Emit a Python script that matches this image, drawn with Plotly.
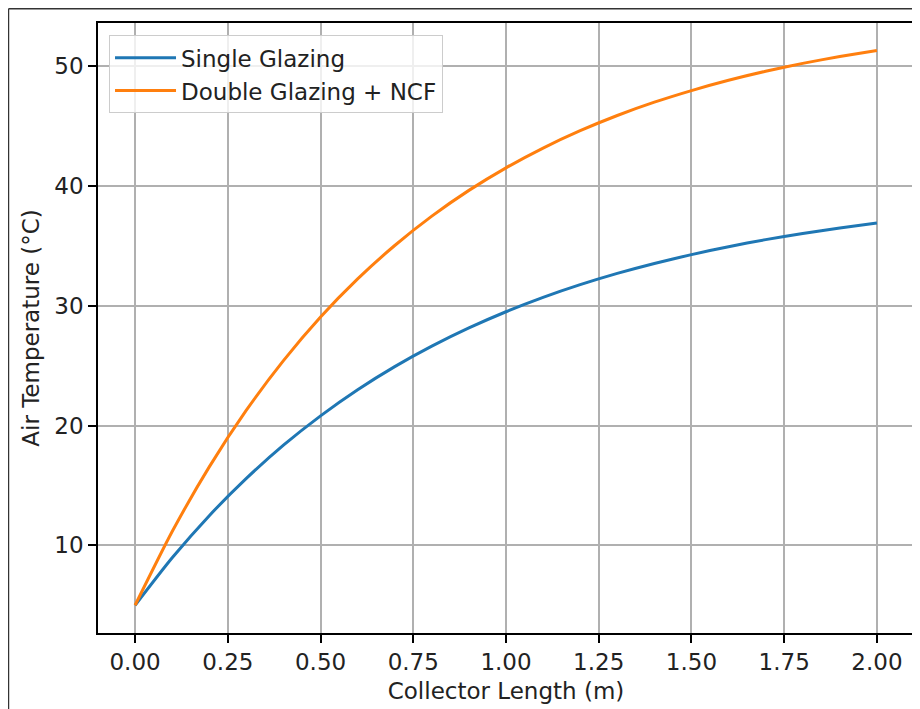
import plotly.graph_objects as go

# Collector length positions (m)
length_m = [0.0, 0.1, 0.2, 0.3, 0.4, 0.5, 0.6, 0.7, 0.8, 0.9, 1.0,
            1.1, 1.2, 1.3, 1.4, 1.5, 1.6, 1.7, 1.8, 1.9, 2.0]

# Air temperature (°C)
single_glazing = [5.0, 8.96, 12.48, 15.59, 18.36, 20.81, 22.99, 24.92, 26.63, 28.15, 29.50,
                  30.70, 31.76, 32.70, 33.53, 34.27, 34.93, 35.52, 36.03, 36.49, 36.90]
double_glazing_ncf = [5.0, 11.15, 16.55, 21.28, 25.42, 29.06, 32.24, 35.03, 37.48, 39.63, 41.51,
                      43.16, 44.61, 45.88, 46.99, 47.96, 48.82, 49.57, 50.23, 50.80, 51.31]

series_names = ["Single Glazing", "Double Glazing + NCF"]
series_colors = ["#1f77b4", "#ff7f0e"]

x_ticks = [0.0, 0.25, 0.5, 0.75, 1.0, 1.25, 1.5, 1.75, 2.0]
y_ticks = [10, 20, 30, 40, 50]

x_title = "Collector Length (m)"
y_title = "Air Temperature (°C)"

FONT = "DejaVu Sans"
FS = 23
TXT = "#222222"

fig = go.Figure()
for name, ys, col in zip(series_names, [single_glazing, double_glazing_ncf], series_colors):
    fig.add_trace(go.Scatter(x=length_m, y=ys, mode="lines", name=name,
                             line=dict(color=col, width=3, shape="spline", smoothing=0.6)))

axis_common = dict(showline=True, linecolor="black", linewidth=1.6, mirror=True,
                   ticks="outside", ticklen=8, tickwidth=1.6, tickcolor="black",
                   showgrid=True, gridcolor="#b0b0b0", gridwidth=1.6, zeroline=False,
                   tickfont=dict(family=FONT, size=FS, color=TXT))

fig.update_xaxes(range=[-0.1, 2.1], tickvals=x_ticks, tickformat=".2f",
                 title=dict(text=x_title, font=dict(family=FONT, size=FS, color=TXT), standoff=8),
                 **axis_common)
fig.update_yaxes(range=[2.685, 53.6], tickvals=y_ticks,
                 title=dict(text=y_title, font=dict(family=FONT, size=FS, color=TXT), standoff=8),
                 **axis_common)

# outer frame of the original screenshot (left and top edges)
fig.add_shape(type="line", xref="paper", yref="paper", x0=-0.1097, x1=-0.1097, y0=-0.3, y1=1.0234,
              line=dict(color="#333333", width=1.5))
fig.add_shape(type="line", xref="paper", yref="paper", x0=-0.1097, x1=1.2, y0=1.0234, y1=1.0234,
              line=dict(color="#333333", width=1.5))

fig.update_layout(
    width=920, height=709,
    margin=dict(l=90, r=12, t=15, b=84),
    paper_bgcolor="white", plot_bgcolor="white",
    font=dict(family=FONT, size=FS, color=TXT),
    showlegend=True,
    legend=dict(x=0.0135, y=0.98, xanchor="left", yanchor="top",
                bgcolor="rgba(255,255,255,0.8)", bordercolor="#cccccc", borderwidth=1,
                font=dict(family=FONT, size=FS, color=TXT),
                tracegroupgap=0, itemwidth=61),
)

fig.write_html("out.html")
